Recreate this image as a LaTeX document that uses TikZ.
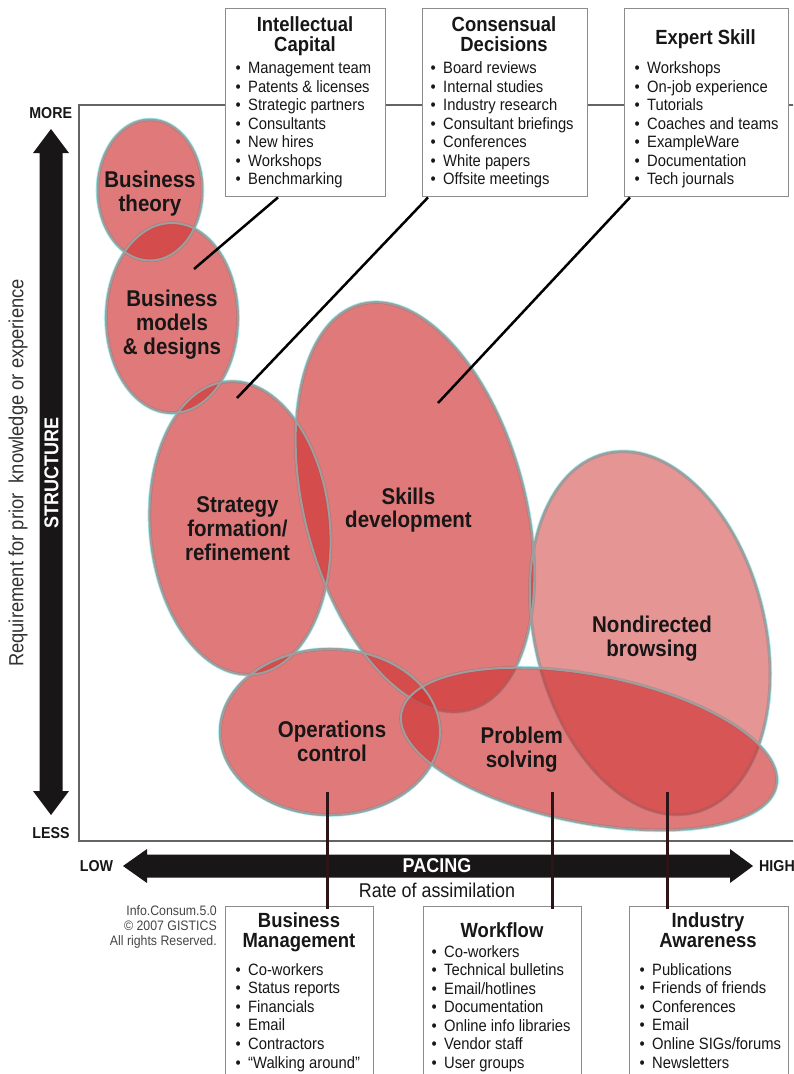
\documentclass[tikz,border=0pt]{standalone}
\usepackage{fontspec}
\setmainfont{Liberation Sans}[FakeStretch=0.9]
\definecolor{blobred}{RGB}{208,52,52}
\definecolor{rimgray}{RGB}{158,158,158}
\definecolor{cyanhalo}{RGB}{160,240,240}
\definecolor{framegray}{RGB}{100,100,100}
\definecolor{boxgray}{RGB}{140,140,140}
\definecolor{ink}{RGB}{24,22,22}
\definecolor{stemcol}{RGB}{45,20,22}
\definecolor{notegray}{RGB}{70,70,70}
\definecolor{sidegray}{RGB}{50,50,50}
\newcommand\itembullet{\makebox[12.5pt][l]{•}}
\begin{document}
\begin{tikzpicture}[x=1pt,y=-1pt,
  infobox/.style={draw=boxgray, line width=1.4pt, fill=white, inner sep=0pt, anchor=north west},
  boxtitle/.style={font=\bfseries\fontsize{20.5}{20}\selectfont, align=center, text=ink, inner sep=0pt},
  boxitem/.style={font=\fontsize{16.4}{18.5}\selectfont, anchor=base west, inner sep=0pt, text=ink},
  blobtext/.style={font=\bfseries\fontsize{22.8}{24}\selectfont, align=center, text=ink, inner sep=0pt},
  blobtight/.style={blobtext, font=\bfseries\fontsize{22.8}{23}\selectfont},
  endlabel/.style={font=\bfseries\fontsize{15.8}{16}\selectfont, text=ink, inner sep=0pt},
  axisname/.style={font=\bfseries\fontsize{20}{20}\selectfont, text=white, inner sep=0pt},
  axisnote/.style={font=\fontsize{19.9}{20}\selectfont, text=ink, inner sep=0pt},
  copyline/.style={font=\fontsize{13.7}{15}\selectfont, text=notegray, inner sep=0pt, anchor=base east},
  frameline/.style={draw=framegray, line width=1.6pt},
  pointer/.style={draw=black, line width=2.5pt},
  stemline/.style={draw=stemcol, line width=3pt},
  halo/.style={draw=cyanhalo, line width=3.6pt},
  rimline/.style={draw=rimgray, line width=2pt},
  redfill/.style={fill=blobred, fill opacity=#1},
]
\useasboundingbox (0,0) rectangle (793,1074);
\clip (0,0) rectangle (793,1074);
\fill[white] (0,0) rectangle (793,1074);

% plot frame
\draw[frameline] (800,105) -| (79,841) -- (800,841);

% STRUCTURE axis (vertical double arrow)
\fill[ink] (51,129) -- (69,153) -- (62.5,153) -- (62.5,791) -- (69,791) -- (51,815)
  -- (33,791) -- (39.5,791) -- (39.5,153) -- (33,153) -- cycle;
% PACING axis (horizontal double arrow)
\fill[ink] (123,866) -- (147,849) -- (147,854.5) -- (730,854.5) -- (730,849) -- (753,866)
  -- (730,883) -- (730,877.5) -- (147,877.5) -- (147,883) -- cycle;

\node[endlabel] (more) at (50.7,113.5) {MORE};
\node[endlabel] (less) at (51,833.5) {LESS};
\node[endlabel] (low) at (96.5,866.5) {LOW};
\node[endlabel] (high) at (777,866.5) {HIGH};
\node[axisname, rotate=90] (structure) at (51.5,472.5) {STRUCTURE};
\node[axisname] (pacing) at (437,866) {PACING};
\node[axisnote] (rate) at (437,890.5) {Rate of assimilation};
\node[axisnote, rotate=90, text=sidegray, font=\fontsize{20.4}{20}\selectfont] (req) at (18,473)
  {Requirement for prior \ knowledge or experience};

% copyright note
\foreach \t [count=\i] in {Info.Consum.5.0, © 2007 GISTICS, All rights Reserved.}
  \node[copyline] (copy-\i) at (217,{900+15*\i}) {\t};

% activity areas: x/y/x radius/y radius/tilt/opacity
\def\upperblobs{150/190/52.5/70.5/0/0.65, 172/318/66/95/0/0.65, 240/528/90/147/5/0.65,
  415/507/110/210/15/0.65, 650/633/115/185/14/0.52, 330/732/110/83/0/0.65}
\def\solveblob{589/749/191/74/-11/0.65}
\foreach \cx/\cy/\rx/\ry/\tilt/\op in \upperblobs
  \draw[halo, rotate around={\tilt:(\cx,\cy)}] (\cx,\cy) ellipse [x radius=\rx pt, y radius=\ry pt];
\foreach \cx/\cy/\rx/\ry/\tilt/\op in \solveblob
  \draw[halo, rotate around={\tilt:(\cx,\cy)}] (\cx,\cy) ellipse [x radius=\rx pt, y radius=\ry pt];
\foreach \cx/\cy/\rx/\ry/\tilt/\op in \upperblobs
  \fill[redfill=\op, rotate around={\tilt:(\cx,\cy)}] (\cx,\cy) ellipse [x radius=\rx pt, y radius=\ry pt];
\foreach \cx/\cy/\rx/\ry/\tilt/\op in \upperblobs
  \draw[rimline, rotate around={\tilt:(\cx,\cy)}] (\cx,\cy) ellipse [x radius=\rx pt, y radius=\ry pt];
% the problem-solving area lies over the others
\foreach \cx/\cy/\rx/\ry/\tilt/\op in \solveblob
  \fill[redfill=\op, rotate around={\tilt:(\cx,\cy)}] (\cx,\cy) ellipse [x radius=\rx pt, y radius=\ry pt];
\foreach \cx/\cy/\rx/\ry/\tilt/\op in \solveblob
  \draw[rimline, rotate around={\tilt:(\cx,\cy)}] (\cx,\cy) ellipse [x radius=\rx pt, y radius=\ry pt];
\draw[rimline] (330,732) ellipse [x radius=110pt, y radius=83pt];

\node[blobtext] (bt) at (150,194) {Business\\theory};
\node[blobtext] (bmd) at (172,325) {Business\\models\\\& designs};
\node[blobtext] (sfr) at (237.5,529) {Strategy\\formation/\\refinement};
\node[blobtight] (sd) at (408.5,510.5) {Skills\\development};
\node[blobtext] (nb) at (652,639) {Nondirected\\browsing};
\node[blobtext] (oc) at (332,741) {Operations\\control};
\node[blobtext] (ps) at (521.7,750) {Problem\\solving};

% source boxes, top row
\node[infobox, minimum width=160pt, minimum height=188pt] (ic) at (225,8) {};
\node[infobox, minimum width=165pt, minimum height=188pt] (cd) at (421.5,8) {};
\node[infobox, minimum width=164pt, minimum height=188pt] (es) at (623.5,8) {};
\node[boxtitle] (ic-t) at (305,36.6) {Intellectual\\Capital};
\node[boxtitle] (cd-t) at (504,34.5) {Consensual\\Decisions};
\node[boxtitle] (es-t) at (705.5,39.5) {Expert Skill};
\foreach \t [count=\i] in {Management team, Patents \& licenses, Strategic partners,
    Consultants, New hires, Workshops, Benchmarking}
  \node[boxitem] (ic-\i) at (235.5,{55+18.5*\i}) {\itembullet\t};
\foreach \t [count=\i] in {Board reviews, Internal studies, Industry research,
    Consultant briefings, Conferences, White papers, Offsite meetings}
  \node[boxitem] (cd-\i) at (430.5,{55+18.5*\i}) {\itembullet\t};
\foreach \t [count=\i] in {Workshops, On-job experience, Tutorials, Coaches and teams,
    ExampleWare, Documentation, Tech journals}
  \node[boxitem] (es-\i) at (634.5,{55+18.5*\i}) {\itembullet\t};

% source boxes, bottom row
\node[infobox, minimum width=148pt, minimum height=190pt] (bm) at (225,906) {};
\node[infobox, minimum width=158pt, minimum height=190pt] (wf) at (423,906) {};
\node[infobox, minimum width=159pt, minimum height=190pt] (ia) at (629,906) {};
\node[boxtitle] (bm-t) at (299,932.6) {Business\\Management};
\node[boxtitle] (wf-t) at (502,930.5) {Workflow};
\node[boxtitle] (ia-t) at (708,930.5) {Industry\\Awareness};
\foreach \t [count=\i] in {Co-workers, Status reports, Financials, Email, Contractors,
    “Walking around”}
  \node[boxitem] (bm-\i) at (235.5,{956.4+18.6*\i}) {\itembullet\t};
\foreach \t [count=\i] in {Co-workers, Technical bulletins, Email/hotlines, Documentation,
    Online info libraries, Vendor staff, User groups}
  \node[boxitem] (wf-\i) at (431.5,{938.5+18.5*\i}) {\itembullet\t};
\foreach \t [count=\i] in {Publications, Friends of friends, Conferences, Email,
    Online SIGs/forums, Newsletters}
  \node[boxitem] (ia-\i) at (639.5,{956.4+18.6*\i}) {\itembullet\t};

% pointers from the top boxes into their areas
\coordinate (bmd-pt) at (194,269);
\coordinate (sfr-pt) at (237,398);
\coordinate (sd-pt) at (438,403);
\draw[pointer] ([xshift=53pt]ic.south west) -- (bmd-pt);
\draw[pointer] ([xshift=6.5pt]cd.south west) -- (sfr-pt);
\draw[pointer] ([xshift=6.5pt]es.south west) -- (sd-pt);

% stems from the areas down to the bottom boxes
\coordinate (oc-pt) at (327,792);
\coordinate (ps-pt) at (552,792);
\coordinate (nb-pt) at (667,792);
\draw[stemline, shorten >=-3pt] (oc-pt) -- (oc-pt |- bm.north);
\draw[stemline, shorten >=-3pt] (ps-pt) -- (ps-pt |- wf.north);
\draw[stemline, shorten >=-3pt] (nb-pt) -- (nb-pt |- ia.north);
\end{tikzpicture}
\end{document}
